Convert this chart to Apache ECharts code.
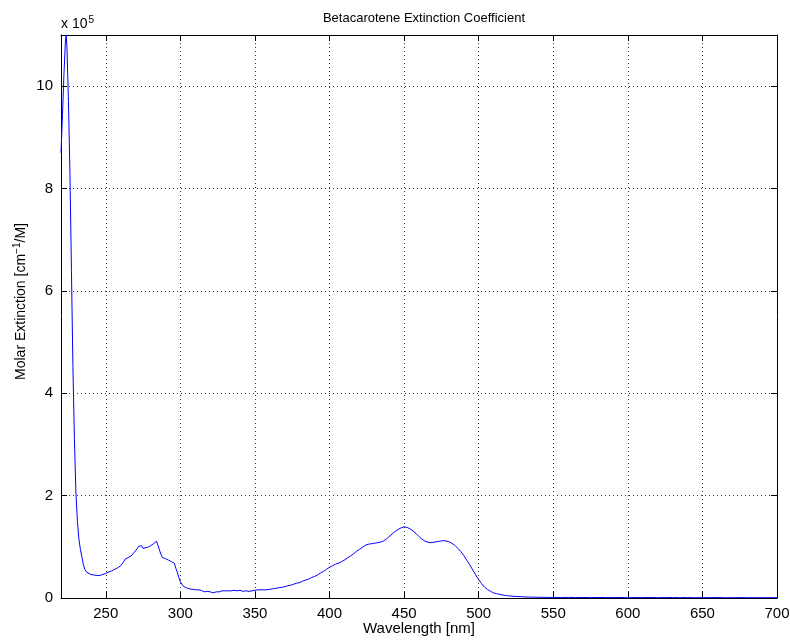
<!DOCTYPE html>
<html>
<head>
<meta charset="utf-8">
<script src="https://cdn.jsdelivr.net/npm/echarts@6/dist/echarts.min.js"></script>
<style>
html,body{margin:0;padding:0;background:#fff;}
#chart{width:790px;height:640px;}
</style>
</head>
<body>
<div id="chart"></div>
<script>
// Wavelength [nm]
var wavelengths = [
220,221,222,223,223.5,224,225,226,227,228,229,230,231,232,233,234,235,236,237,238,240,242,244,246,248,
250,252,254,256,258,260,262,263,265,267,269,271,272,273,274,275,276,278,280,282,283,284,285,286,287,288,
290,292,294,295,296,297,298,299,300,301,302,304,306,
308,309,310,311,312,313,314,315,316,317,318,319,320,321,322,323,324,325,326,327,328,329,330,
331,332,333,334,335,336,337,338,339,340,341,342,343,344,345,346,347,348,349,350,
351,352,353,354,355,356,357,358,359,360,
362,364,366,368,370,372,374,376,378,380,382,384,386,388,390,392,394,396,398,400,
402,404,406,408,410,412,414,416,418,420,422,424,426,428,430,432,434,436,438,440,
442,444,446,448,450,452,454,456,458,460,462,464,466,468,470,472,474,476,478,480,
482,484,486,488,490,492,494,496,498,500,502,504,506,508,510,512,515,518,520,525,
530,535,540,545,550,555,560,565,570,575,580,585,590,595,600,605,610,615,620,625,
630,635,640,645,650,655,660,665,670,675,680,685,690,695,700
];
// Molar extinction, in units of 1e5 cm^-1/M
var extinction = [
8.70,9.45,10.25,10.90,11.0,10.75,9.70,8.30,6.40,4.50,3.10,2.05,1.50,1.15,0.95,0.80,0.65,0.56,0.51,0.48,0.46,0.45,0.44,0.44,0.46,
0.48,0.51,0.53,0.56,0.59,0.63,0.71,0.76,0.79,0.82,0.89,0.96,1.01,1.04,1.02,0.97,0.96,0.99,1.02,1.06,1.09,1.11,1.03,0.94,0.85,0.79,
0.77,0.74,0.71,0.70,0.68,0.58,0.50,0.40,0.32,0.27,0.23,0.20,0.18,
0.17,0.15,0.16,0.14,0.16,0.13,0.15,0.14,0.12,0.15,0.13,0.14,0.12,0.13,0.10,0.13,0.12,0.14,0.12,0.13,0.14,0.12,0.14,
0.13,0.14,0.12,0.14,0.13,0.15,0.13,0.14,0.13,0.15,0.14,0.13,0.15,0.14,0.15,0.13,0.15,0.14,0.16,0.15,
0.14,0.16,0.15,0.16,0.15,0.16,0.17,0.16,0.17,0.17,
0.18,0.19,0.20,0.21,0.22,0.24,0.25,0.27,0.29,0.30,0.33,0.35,0.37,0.40,0.42,0.45,0.49,0.52,0.56,0.60,
0.63,0.66,0.68,0.71,0.74,0.78,0.82,0.86,0.91,0.95,0.99,1.03,1.05,1.06,1.07,1.08,1.09,1.11,1.15,1.20,
1.25,1.30,1.34,1.37,1.39,1.38,1.35,1.31,1.26,1.20,1.15,1.11,1.09,1.08,1.09,1.10,1.11,1.12,1.115,1.10,
1.07,1.03,0.97,0.91,0.83,0.74,0.65,0.55,0.45,0.36,0.28,0.21,0.165,0.13,0.10,0.085,0.065,0.05,0.042,0.03,
0.022,0.017,0.014,0.012,0.011,0.010,0.012,0.009,0.010,0.008,0.011,0.009,0.008,0.010,0.007,0.009,0.008,0.010,0.007,0.008,
0.009,0.007,0.008,0.006,0.008,0.007,0.009,0.006,0.007,0.008,0.006,0.007,0.006,0.007,0.006
];
var xTicks = [250,300,350,400,450,500,550,600,650,700];
var yTicks = [0,2,4,6,8,10];

var seriesData = wavelengths.map(function (w, i) { return [w, extinction[i]]; });

var FONT = 'Liberation Sans, Arial, Helvetica, sans-serif';
var gridLine = { show: true, lineStyle: { color: '#3a3a3a', width: 1, type: [1, 3] } };

function baseAxis(extra) {
  var a = {
    type: 'value',
    axisLine: { show: true, onZero: false, lineStyle: { color: '#000', width: 1 } },
    axisTick: { show: true, inside: true, length: 6, lineStyle: { color: '#000', width: 1 } },
    axisLabel: { show: true, color: '#000', fontSize: 15, fontFamily: FONT, margin: 8 },
    splitLine: { show: false }
  };
  for (var k in extra) a[k] = extra[k];
  return a;
}

var chart = echarts.init(document.getElementById('chart'), null, { renderer: 'canvas' });
chart.setOption({
  backgroundColor: '#fff',
  animation: false,
  title: {
    text: 'Betacarotene Extinction Coefficient',
    left: 419, top: 7, textAlign: 'center',
    textStyle: { color: '#000', fontSize: 13, fontWeight: 'normal', fontFamily: FONT }
  },
  grid: { left: 61, right: 13, top: 35, bottom: 42, containLabel: false, outerBoundsMode: 'none' },
  xAxis: [
    baseAxis({
      position: 'bottom', min: 220, max: 700,
      axisTick: { show: true, inside: true, length: 6, customValues: xTicks, lineStyle: { color: '#000' } },
      axisLabel: { show: true, color: '#000', fontSize: 15, fontFamily: FONT, margin: 8, customValues: xTicks },
      splitLine: gridLine,
      name: 'Wavelength [nm]', nameLocation: 'middle', nameGap: 23, nameMoveOverlap: false,
      nameTextStyle: { color: '#000', fontSize: 15, fontFamily: FONT, verticalAlign: 'top' }
    }),
    baseAxis({
      position: 'top', min: 220, max: 700,
      axisTick: { show: true, inside: true, length: 6, customValues: xTicks, lineStyle: { color: '#000' } },
      axisLabel: { show: false }
    })
  ],
  yAxis: [
    baseAxis({
      position: 'left', min: 0, max: 11,
      axisTick: { show: true, inside: true, length: 6, customValues: yTicks, lineStyle: { color: '#000' } },
      axisLabel: { show: true, color: '#000', fontSize: 15, fontFamily: FONT, margin: 8, customValues: yTicks },
      splitLine: gridLine,
      name: 'Molar Extinction [cm{sup|−1}/M]', nameLocation: 'middle', nameGap: 31, nameMoveOverlap: false,
      nameTextStyle: {
        color: '#000', fontSize: 14, fontFamily: FONT, padding: [0, 0, 0, 30],
        rich: { sup: { fontSize: 10, verticalAlign: 'top', padding: [0, 0, 8, 0], color: '#000', fontFamily: FONT } }
      }
    }),
    baseAxis({
      position: 'right', min: 0, max: 11,
      axisTick: { show: true, inside: true, length: 6, customValues: yTicks, lineStyle: { color: '#000' } },
      axisLabel: { show: false }
    })
  ],
  graphic: [
    {
      type: 'text', left: 61, top: 15,
      style: {
        text: 'x 10{s|5}', fill: '#000', fontSize: 14, fontFamily: FONT,
        rich: { s: { fontSize: 10, padding: [0, 0, 9, 1], fill: '#000', fontFamily: FONT } }
      }
    }
  ],
  series: [{
    type: 'line', xAxisIndex: 0, yAxisIndex: 0,
    data: seriesData, showSymbol: false, smooth: false, clip: true,
    lineStyle: { color: '#0000ff', width: 1 },
    itemStyle: { color: '#0000ff' }
  }]
});
</script>
</body>
</html>
